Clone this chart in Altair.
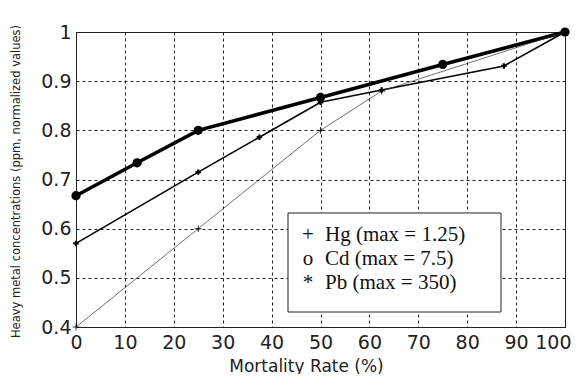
import altair as alt
import pandas as pd

series_order = ["Hg", "Cd", "Pb"]
legend_symbols = ["+", "o", "*"]
legend_texts = ["Hg (max = 1.25)", "Cd (max = 7.5)", "Pb (max = 350)"]
line_widths = {"Hg": 1.6, "Cd": 3.6, "Pb": 0.7}

hg_x = [0, 25, 37.5, 50, 62.5, 87.5, 100]
hg_y = [0.57, 0.715, 0.786, 0.857, 0.882, 0.931, 1.0]

cd_x = [0, 12.5, 25, 50, 75, 100]
cd_y = [0.667, 0.734, 0.8, 0.867, 0.934, 1.0]

pb_x = [0, 25, 50, 62.5, 100]
pb_y = [0.4, 0.6, 0.8, 0.88, 1.0]

x_ticks = [0, 10, 20, 30, 40, 50, 60, 70, 80, 90, 100]
y_ticks = [0.4, 0.5, 0.6, 0.7, 0.8, 0.9, 1.0]

rows = []
for name, xs, ys in [("Hg", hg_x, hg_y), ("Cd", cd_x, cd_y), ("Pb", pb_x, pb_y)]:
    for i, (a, b) in enumerate(zip(xs, ys)):
        rows.append({"series": name, "x": a, "y": b, "order": i, "sw": line_widths[name]})
df = pd.DataFrame(rows)

x_enc = alt.X(
    "x:Q",
    scale=alt.Scale(domain=[0, 100], nice=False),
    axis=alt.Axis(
        values=x_ticks,
        labelFlush=True,
        labelFlushOffset=6,
        title="Mortality Rate (%)",
        titleX=230,
        titleY=44,
        titleBaseline="alphabetic",
        titleAlign="center",
    ),
)
y_enc = alt.Y(
    "y:Q",
    scale=alt.Scale(domain=[0.4, 1.0], nice=False, zero=False),
    axis=alt.Axis(
        values=y_ticks,
        labelExpr="datum.value == 1 ? '1' : format(datum.value, '.1f')",
        title="Heavy metal concentrations (ppm, normalized values)",
        titleX=-60,
        titleY=149,
        titleAngle=-90,
        titleBaseline="middle",
        titleAlign="center",
    ),
)

base = alt.Chart(df)

lines = base.mark_line().encode(
    x=x_enc,
    y=y_enc,
    order="order:Q",
    color=alt.Color(
        "series:N",
        scale=alt.Scale(domain=series_order, range=["#000000", "#000000", "#333333"]),
        legend=None,
    ),
    strokeWidth=alt.StrokeWidth("sw:Q", scale=None, legend=None),
)

cd_pts = base.transform_filter("datum.series == 'Cd'").mark_circle(
    size=85, color="black", opacity=1
).encode(x="x:Q", y="y:Q")

hg_pts = base.transform_filter("datum.series == 'Hg'").mark_point(
    shape="cross", size=30, filled=True, color="black", opacity=1
).encode(x="x:Q", y="y:Q")

pb_pts = base.transform_filter("datum.series == 'Pb'").mark_point(
    shape="M-1,0H1M0,-1V1", size=45, filled=False, color="black", strokeWidth=0.8, opacity=1
).encode(x="x:Q", y="y:Q")

# legend box (annotation, in view pixels)
legend_box = alt.Chart(pd.DataFrame({"k": [0]})).mark_rect(
    fill="white", stroke="#222", strokeWidth=1
).encode(x=alt.value(212), x2=alt.value(425), y=alt.value(181), y2=alt.value(280))

legend_layers = []
for i, (sym, txt) in enumerate(zip(legend_symbols, legend_texts)):
    yb = 209 + 24 * i
    d = pd.DataFrame({"s": [sym], "t": [txt]})
    legend_layers.append(
        alt.Chart(d).mark_text(
            font="Liberation Serif", fontSize=21, align="center", baseline="alphabetic", color="#111"
        ).encode(text="s:N", x=alt.value(232), y=alt.value(yb))
    )
    legend_layers.append(
        alt.Chart(d).mark_text(
            font="Liberation Serif", fontSize=21, align="left", baseline="alphabetic", color="#111"
        ).encode(text="t:N", x=alt.value(249), y=alt.value(yb))
    )

chart = (
    alt.layer(lines, cd_pts, hg_pts, pb_pts, legend_box, *legend_layers)
    .properties(
        width=489,
        height=295,
        padding={"left": 68, "top": 24, "right": 7, "bottom": 47},
        autosize=alt.AutoSizeParams(type="none"),
    )
    .configure_view(stroke="#222", strokeWidth=1)
    .configure_axis(
        grid=True,
        gridDash=[3, 3],
        gridColor="#222",
        gridOpacity=1,
        gridWidth=1,
        domainColor="#222",
        domainWidth=1,
        tickSize=0,
        labelFont="DejaVu Sans",
        labelFontSize=19,
        labelColor="#222",
        titleFont="DejaVu Sans",
        titleFontWeight="normal",
        titleColor="#222",
    )
    .configure_axisX(labelPadding=6, titleFontSize=17)
    .configure_axisY(labelPadding=5, titleFontSize=11.5)
)

chart.save("out.html", embed_options={"renderer": "svg", "actions": False})
